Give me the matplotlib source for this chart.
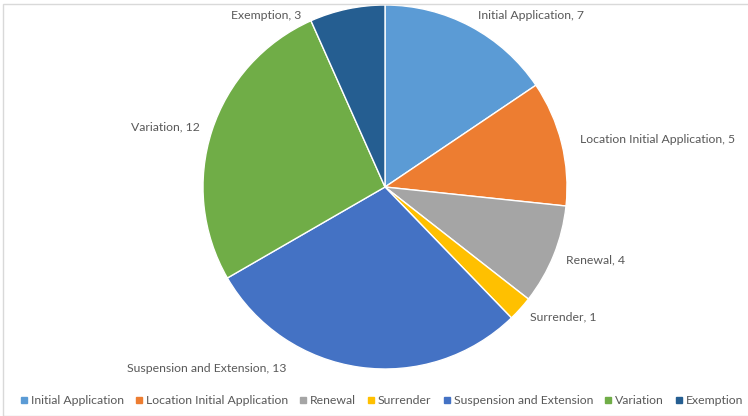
import matplotlib.pyplot as plt
from matplotlib.lines import Line2D
from matplotlib.patches import Rectangle
import numpy as np

# Data
categories = ["Initial Application", "Location Initial Application", "Renewal",
              "Surrender", "Suspension and Extension", "Variation", "Exemption"]
counts = [7, 5, 4, 1, 13, 12, 3]
colors = ["#5B9BD5", "#ED7D31", "#A5A5A5", "#FFC000", "#4472C4", "#70AD47", "#255E91"]

plt.rcParams['font.family'] = ['Lato', 'DejaVu Sans']
W, H = 748, 416
fig = plt.figure(figsize=(W / 100, H / 100), dpi=100)

# light frame like the Excel chart area
fig.add_artist(Rectangle((3 / W, 0), 1, 1 - 4 / H, transform=fig.transFigure,
                         fill=False, edgecolor="#D9D9D9", linewidth=1))

cx, cy, r = 385, 187, 182
ax = fig.add_axes([(cx - r) / W, (H - cy - r) / H, 2 * r / W, 2 * r / H])

labels = [f"{c}, {v}" for c, v in zip(categories, counts)]
wedges, texts = ax.pie(counts, colors=colors, startangle=90, counterclock=False,
                       labels=labels, labeldistance=1.07,
                       wedgeprops=dict(edgecolor="white", linewidth=1),
                       textprops=dict(color="#595959", fontsize=8.8))
ax.set_xlim(-1, 1)
ax.set_ylim(-1, 1)
ax.set_aspect('equal')
for t in texts:
    t.set_clip_on(False)

# Excel's "best fit" nudges a few labels away from the radial line
texts[0].set_position((0.51, 0.94))
texts[0].set_va('center')
x1, y1 = texts[1].get_position()
texts[1].set_position((x1 + 0.035, y1))
texts[4].set_position((-0.54, -0.995))
texts[4].set_ha('right')
texts[4].set_va('center')
texts[6].set_position((-0.46, 0.94))
texts[6].set_ha('right')
texts[6].set_va('center')

handles = [Line2D([], [], marker='s', linestyle='none', markersize=5,
                  markerfacecolor=c, markeredgecolor=c) for c in colors]
fig.legend(handles, categories, loc='center', bbox_to_anchor=(0.51, 1 - 401 / H),
           ncol=7, frameon=False, fontsize=8.8, handlelength=0.7,
           handletextpad=0.2, columnspacing=0.9, labelcolor="#595959")

fig.savefig("out.png", dpi=100)
